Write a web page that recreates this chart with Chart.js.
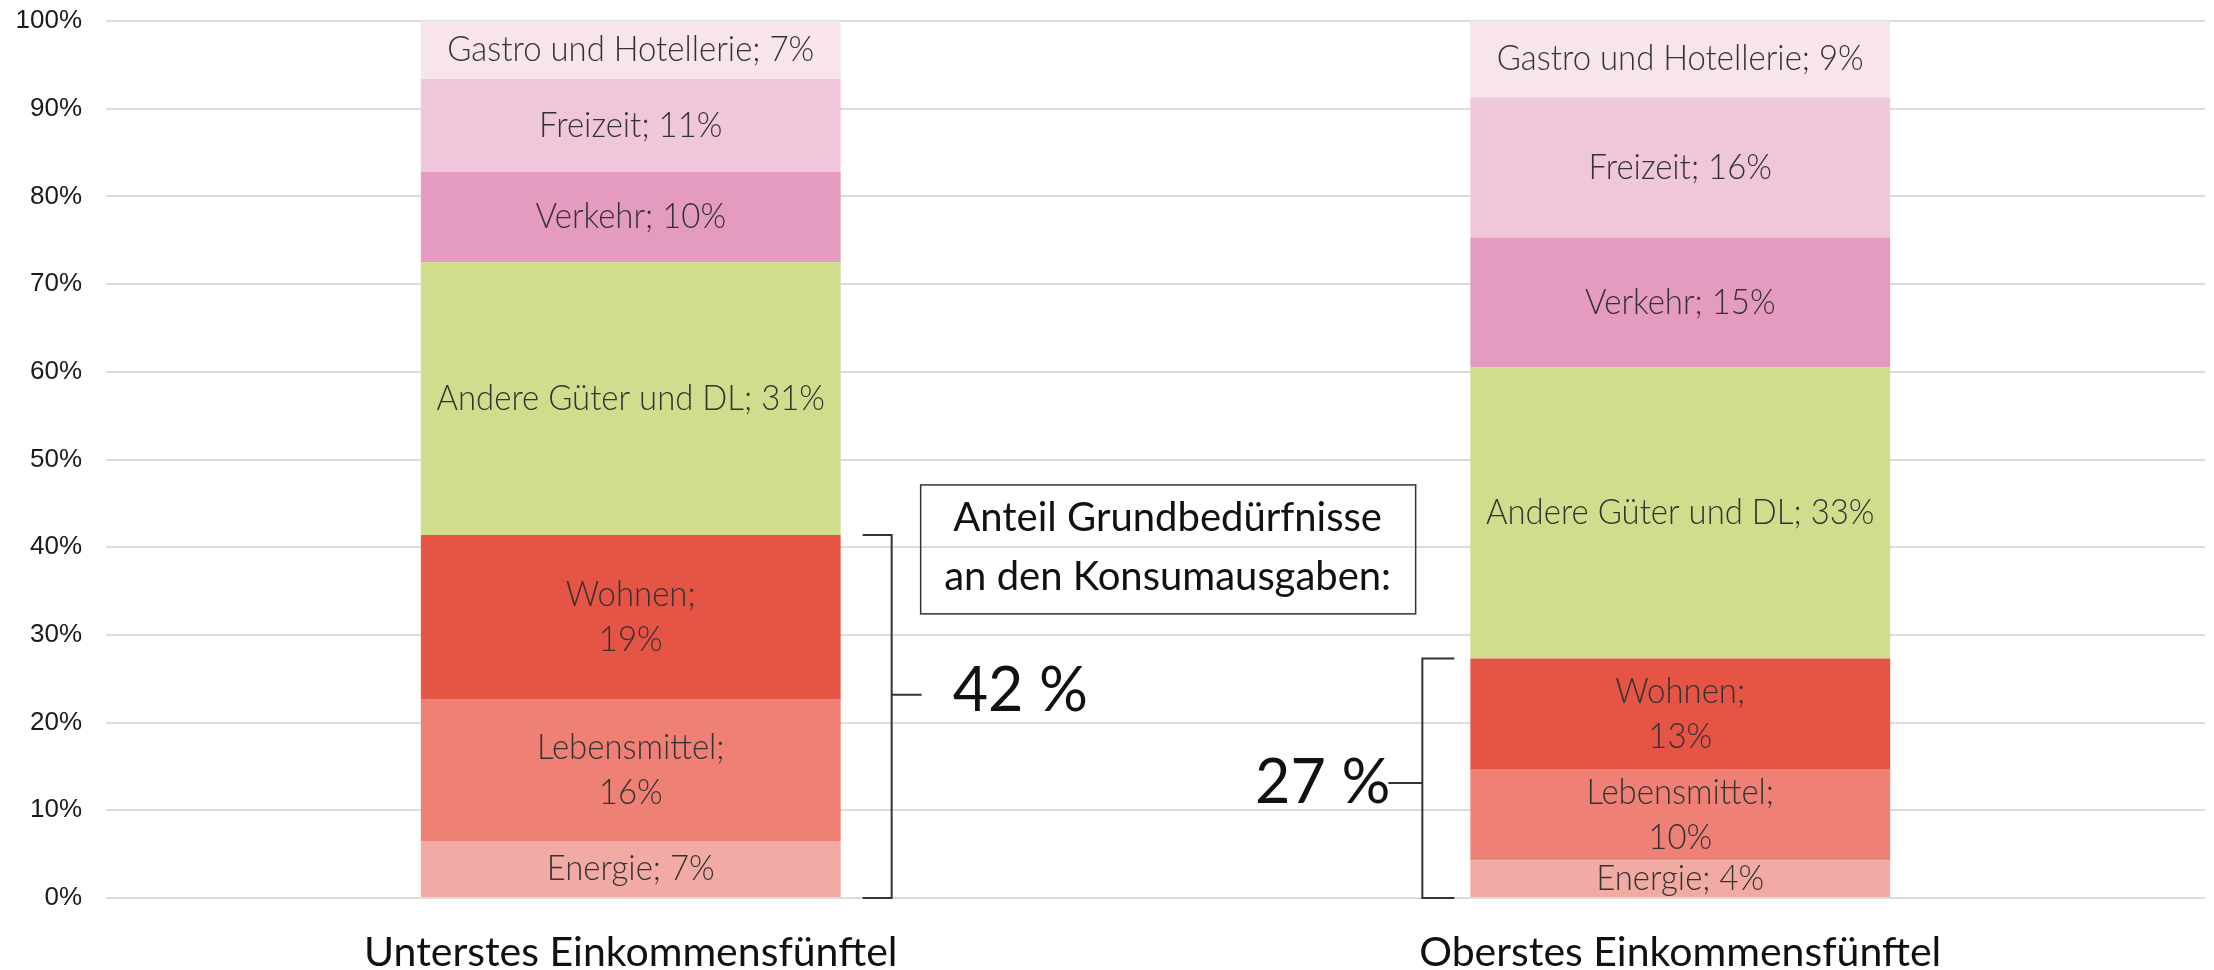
<!DOCTYPE html>
<html>
<head>
<meta charset="utf-8">
<script src="https://cdn.jsdelivr.net/npm/chart.js@4.4.1/dist/chart.umd.min.js"></script>
<style>
  html, body { margin: 0; padding: 0; background: #fff; }
  #wrap { width: 2214px; height: 970px; position: relative; }
</style>
</head>
<body>
<div id="wrap"><canvas id="konsumChart"></canvas></div>
<script>
// Anteile an den Konsumausgaben (in %), von unten nach oben gestapelt
const categories = ['Unterstes Einkommensfünftel', 'Oberstes Einkommensfünftel'];
const seriesNames = ['Energie', 'Lebensmittel', 'Wohnen', 'Andere Güter und DL', 'Verkehr', 'Freizeit', 'Gastro und Hotellerie'];
const energie = [6.5, 4.3];
const lebensmittel = [16.2, 10.4];
const wohnen = [18.7, 12.6];
const andereGueter = [31.1, 33.2];
const verkehr = [10.3, 14.8];
const freizeit = [10.6, 16.0];
const gastro = [6.6, 8.7];
const yTicks = [0, 10, 20, 30, 40, 50, 60, 70, 80, 90, 100];

const seriesValues = [energie, lebensmittel, wohnen, andereGueter, verkehr, freizeit, gastro];
const seriesColors = ['#f2aba4', '#ee8075', '#e65446', '#d0dd8c', '#e49bbf', '#f0c6da', '#f8e4ec'];
const twoLineLabels = ['Wohnen', 'Lebensmittel'];
const basicNeeds = 3; // Energie, Lebensmittel, Wohnen

// Beschriftung in den Segmenten (leicht schmal gezogen)
const segmentLabels = {
    id: 'segmentLabels',
    afterDatasetsDraw(chart) {
        const ctx = chart.ctx;
        chart.data.datasets.forEach((ds, i) => {
            chart.getDatasetMeta(i).data.forEach((bar, j) => {
                const pct = Math.round(ds.data[j]) + '%';
                const mid = (bar.y + bar.base) / 2;
                ctx.save();
                ctx.translate(bar.x, mid);
                ctx.scale(0.94, 1);
                ctx.font = '300 35px Lato';
                ctx.fillStyle = '#333';
                ctx.textAlign = 'center';
                ctx.textBaseline = 'middle';
                if (twoLineLabels.includes(ds.label)) {
                    ctx.fillText(ds.label + ';', 0, -22);
                    ctx.fillText(pct, 0, 23);
                } else {
                    ctx.fillText(ds.label + '; ' + pct, 0, 0);
                }
                ctx.restore();
            });
        });
    }
};

// Klammern, Summen und Textbox
const brackets = {
    id: 'brackets',
    afterDraw(chart) {
        const ctx = chart.ctx;
        const y = chart.scales.y;
        const bars = chart.getDatasetMeta(0).data;
        const bottom = y.getPixelForValue(0);

        ctx.save();
        ctx.strokeStyle = '#333';
        ctx.lineWidth = 2;
        ctx.fillStyle = '#111';

        categories.forEach((c, j) => {
            let topVal = 0, share = 0;
            for (let k = 0; k < basicNeeds; k++) {
                topVal += seriesValues[k][j];
                share += Math.round(seriesValues[k][j]);
            }
            const top = y.getPixelForValue(topVal);
            const bar = bars[j];
            const half = bar.width / 2;
            ctx.font = '400 61px Lato';
            ctx.textBaseline = 'middle';
            ctx.beginPath();
            if (j === 0) {
                const vx = bar.x + half + 51;
                const my = top + 0.44 * (bottom - top);
                ctx.moveTo(bar.x + half + 22, top); ctx.lineTo(vx, top);
                ctx.lineTo(vx, bottom); ctx.lineTo(bar.x + half + 22, bottom);
                ctx.moveTo(vx, my); ctx.lineTo(vx + 30, my);
                ctx.stroke();
                ctx.textAlign = 'left';
                ctx.fillText(share + ' %', vx + 61, my - 3);
            } else {
                const vx = bar.x - half - 48;
                const my = top + 0.52 * (bottom - top);
                ctx.moveTo(bar.x - half - 16, top); ctx.lineTo(vx, top);
                ctx.lineTo(vx, bottom); ctx.lineTo(bar.x - half - 16, bottom);
                ctx.moveTo(vx, my); ctx.lineTo(vx - 34, my);
                ctx.stroke();
                ctx.textAlign = 'right';
                ctx.fillText(share + ' %', vx - 32, my);
            }
        });

        // Textbox
        const b0 = bars[0];
        const bx = b0.x + b0.width / 2 + 80;
        const bTop = y.getPixelForValue(47.1);
        const bBottom = y.getPixelForValue(32.4);
        ctx.lineWidth = 1.5;
        ctx.strokeRect(bx, bTop, 495, bBottom - bTop);
        ctx.font = '400 40px Lato';
        ctx.textAlign = 'center';
        ctx.fillText('Anteil Grundbedürfnisse', bx + 247, bTop + 33);
        ctx.fillText('an den Konsumausgaben:', bx + 247, bTop + 92);
        ctx.restore();
    }
};

const ctx = document.getElementById('konsumChart').getContext('2d');

const myChart = new Chart(ctx, {
    type: 'bar',
    data: {
        labels: categories,
        datasets: seriesNames.map((name, i) => ({
            label: name,
            data: seriesValues[i],
            backgroundColor: seriesColors[i],
            borderWidth: 0,
            barPercentage: 0.4,
            categoryPercentage: 1
        }))
    },
    options: {
        responsive: true,
        maintainAspectRatio: false,
        animation: false,
        layout: {
            padding: { top: 21, right: 9, bottom: 0, left: 0 }
        },
        scales: {
            x: {
                stacked: true,
                grid: { display: false },
                border: { display: false },
                ticks: {
                    padding: 22,
                    color: '#111',
                    font: { family: 'Lato', size: 41 }
                },
                afterFit: (scale) => { scale.height = 72; }
            },
            y: {
                stacked: true,
                min: 0,
                max: 100,
                afterBuildTicks: (scale) => { scale.ticks = yTicks.map(v => ({ value: v })); },
                grid: { color: '#dcdcdc', lineWidth: 2, drawTicks: false },
                border: { display: false },
                ticks: {
                    padding: 24,
                    color: '#1a1a1a',
                    font: { family: 'Liberation Sans', size: 26 },
                    callback: (v) => v + '%'
                },
                afterFit: (scale) => {
                    scale.width = 106;
                    scale.paddingTop = 0;
                    scale.paddingBottom = 0;
                }
            }
        },
        plugins: {
            legend: { display: false },
            tooltip: { enabled: false }
        }
    },
    plugins: [segmentLabels, brackets]
});
</script>
</body>
</html>
